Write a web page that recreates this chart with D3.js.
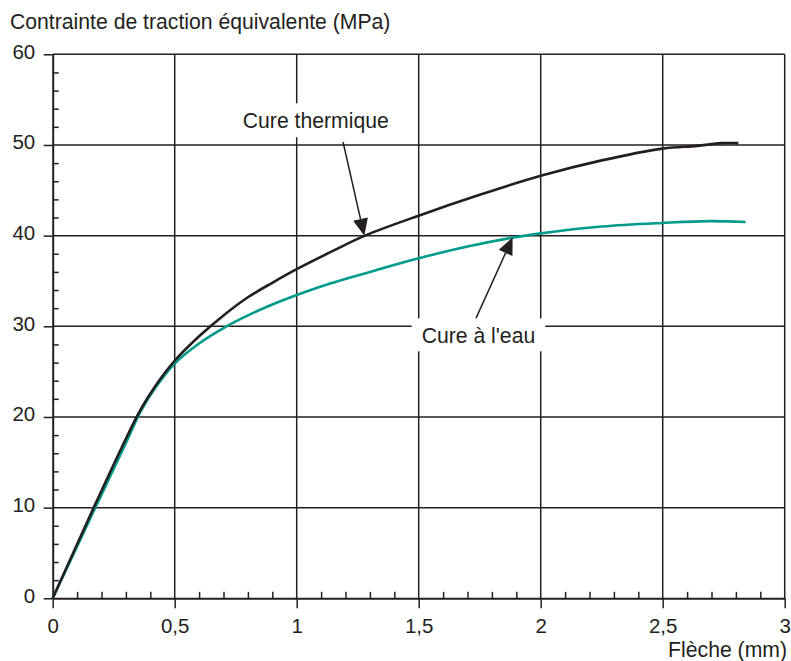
<!DOCTYPE html>
<html>
<head>
<meta charset="utf-8">
<script src="https://cdn.jsdelivr.net/npm/d3@7"></script>
<style>
  body { margin: 0; background: #fff; }
  svg text { font-family: "Liberation Sans", Arial, Helvetica, sans-serif; fill: #231f20; }
</style>
</head>
<body>
<div id="chart"></div>
<script>
// valeurs
const flecheThermique = [0, 0.168, 0.30, 0.36, 0.42, 0.5, 0.6, 0.7, 0.8, 0.9, 1.0, 1.14, 1.28, 1.5, 1.75, 2.0, 2.25, 2.5, 2.64, 2.74, 2.81];
const contrainteThermique = [0, 10, 17.6, 20.8, 23.4, 26.2, 28.9, 31.2, 33.2, 34.8, 36.3, 38.2, 40, 42.2, 44.5, 46.6, 48.3, 49.6, 49.9, 50.2, 50.2];

const flecheEau = [0, 0.173, 0.303, 0.36, 0.42, 0.5, 0.6, 0.7, 0.8, 0.9, 1.0, 1.14, 1.3, 1.5, 1.7, 1.89, 2.0, 2.25, 2.5, 2.69, 2.84];
const contrainteEau = [0, 9.9, 17.3, 20.6, 23.2, 25.9, 28.1, 29.8, 31.2, 32.4, 33.45, 34.75, 36.0, 37.5, 38.8, 39.8, 40.25, 41.0, 41.4, 41.6, 41.5];

const xTicks = [0, 0.5, 1, 1.5, 2, 2.5, 3];
const yTicks = [0, 10, 20, 30, 40, 50, 60];
const xMinorTicks = [0.1, 0.2, 0.3, 0.4, 0.6, 0.7, 0.8, 0.9, 1.1, 1.2, 1.3, 1.4, 1.6, 1.7, 1.8, 1.9, 2.1, 2.2, 2.3, 2.4, 2.6, 2.7, 2.8, 2.9];
const yMinorTicks = [2, 4, 6, 8, 12, 14, 16, 18, 22, 24, 26, 28, 32, 34, 36, 38, 42, 44, 46, 48, 52, 54, 56, 58];

const titreY = "Contrainte de traction équivalente (MPa)";
const titreX = "Flèche (mm)";

// étiquettes : texte, position du texte, départ et pointe de la flèche (en unités du graphe)
const etiquettes = [
  { texte: "Cure thermique", x: 0.779, y: 51.84, tail: [1.19, 50.33], tip: [1.277, 40] },
  { texte: "Cure à l'eau", x: 1.512, y: 28.12, tail: [1.735, 30.9], tip: [1.885, 39.8] },
];

const width = 791;
const height = 661;
const ink = "#231f20";
const teal = "#009b8c";

const x = d3.scaleLinear().domain([0, 3]).range([52.7, 784.7]);
const y = d3.scaleLinear().domain([0, 60]).range([598.3, 54.3]);

const svg = d3
  .select("#chart")
  .append("svg")
  .attr("width", width)
  .attr("height", height);

// grille
svg
  .append("g")
  .selectAll("line")
  .data(xTicks.slice(1))
  .enter()
  .append("line")
  .attr("x1", (d) => x(d))
  .attr("x2", (d) => x(d))
  .attr("y1", y(0))
  .attr("y2", y(60))
  .attr("stroke", ink)
  .attr("stroke-width", 1.5);

svg
  .append("g")
  .selectAll("line")
  .data(yTicks.slice(1))
  .enter()
  .append("line")
  .attr("x1", x(0))
  .attr("x2", x(3))
  .attr("y1", (d) => y(d))
  .attr("y2", (d) => y(d))
  .attr("stroke", ink)
  .attr("stroke-width", 1.5);

// axes
const fmt = (d) => String(d).replace(".", ",");

const gx = svg
  .append("g")
  .attr("transform", `translate(0,${y(0)})`)
  .call(d3.axisBottom(x).tickValues(xTicks).tickSize(10).tickSizeOuter(0).tickPadding(10).tickFormat(fmt));
gx.selectAll("text").attr("font-size", "20.5px");

const gxMinor = svg
  .append("g")
  .attr("transform", `translate(0,${y(0)})`)
  .call(d3.axisTop(x).tickValues(xMinorTicks).tickSize(6.5).tickFormat(""));
gxMinor.select(".domain").remove();

const gy = svg
  .append("g")
  .attr("transform", `translate(${x(0)},0)`)
  .call(d3.axisLeft(y).tickValues(yTicks).tickSize(9).tickSizeOuter(0).tickPadding(8.5));
gy.selectAll("text").attr("font-size", "20.5px").attr("dy", "0.18em");

const gyMinor = svg
  .append("g")
  .attr("transform", `translate(${x(0)},0)`)
  .call(d3.axisRight(y).tickValues(yMinorTicks).tickSize(6).tickFormat(""));
gyMinor.select(".domain").remove();

svg.selectAll(".domain").attr("stroke", ink).attr("stroke-width", 2);
svg.selectAll(".tick line").attr("stroke", ink).attr("stroke-width", 1.5);
svg.selectAll(".tick text").attr("fill", ink).attr("font-family", null);

// titres des axes
svg
  .append("text")
  .attr("x", 10)
  .attr("y", 29)
  .attr("font-size", "21.2px")
  .text(titreY);

svg
  .append("text")
  .attr("x", 787)
  .attr("y", 657)
  .attr("text-anchor", "end")
  .attr("font-size", "21.2px")
  .text(titreX);

// courbes
const line = d3
  .line()
  .curve(d3.curveCatmullRom.alpha(0.5))
  .x((d) => x(d[0]))
  .y((d) => y(d[1]));

svg
  .append("path")
  .datum(d3.zip(flecheEau, contrainteEau))
  .attr("fill", "none")
  .attr("stroke", teal)
  .attr("stroke-width", 2.6)
  .attr("d", line);

svg
  .append("path")
  .datum(d3.zip(flecheThermique, contrainteThermique))
  .attr("fill", "none")
  .attr("stroke", ink)
  .attr("stroke-width", 2.6)
  .attr("d", line);

// étiquettes avec fond blanc et flèches
etiquettes.forEach(function (e) {
  const g = svg.append("g");
  const rect = g.append("rect").attr("fill", "#fff");
  const t = g
    .append("text")
    .attr("x", x(e.x))
    .attr("y", y(e.y))
    .attr("font-size", "21.2px")
    .text(e.texte);
  const bb = t.node().getBBox();
  rect
    .attr("x", bb.x - 10)
    .attr("y", bb.y - 6)
    .attr("width", bb.width + 20)
    .attr("height", bb.height + 10);

  const x0 = x(e.tail[0]);
  const y0 = y(e.tail[1]);
  const x1 = x(e.tip[0]);
  const y1 = y(e.tip[1]);
  const ang = Math.atan2(y1 - y0, x1 - x0);
  const len = 17;
  const half = 7.5;
  const bx = x1 - len * Math.cos(ang);
  const by = y1 - len * Math.sin(ang);

  svg
    .append("line")
    .attr("x1", x0)
    .attr("y1", y0)
    .attr("x2", bx)
    .attr("y2", by)
    .attr("stroke", ink)
    .attr("stroke-width", 1.5);

  svg
    .append("path")
    .attr(
      "d",
      `M${x1},${y1}L${bx + half * Math.sin(ang)},${by - half * Math.cos(ang)}L${bx - half * Math.sin(ang)},${by + half * Math.cos(ang)}Z`
    )
    .attr("fill", ink);
});
</script>
</body>
</html>
